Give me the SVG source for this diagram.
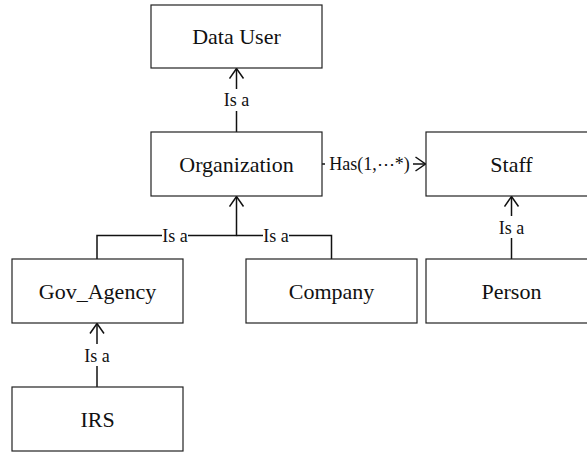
<svg xmlns="http://www.w3.org/2000/svg" width="587" height="452" viewBox="0 0 587 452">
<style>
.box{fill:#fff;stroke:#222;stroke-width:1.2}
.nt{font-family:"Liberation Serif",serif;font-size:22px;fill:#111;text-anchor:middle}
.lt{font-family:"Liberation Serif",serif;font-size:18px;fill:#111;text-anchor:middle}
.ln{fill:none;stroke:#111;stroke-width:1.5}
.bg{fill:#fff}
</style>
<defs>
<marker id="arr" viewBox="0 0 12 16" refX="11" refY="8" markerWidth="12" markerHeight="16" markerUnits="userSpaceOnUse" orient="auto">
<path d="M1,1 L11,8 L1,15" fill="none" stroke="#111" stroke-width="1.5"/>
</marker>
</defs>
<rect width="587" height="452" fill="#fff"/>
<g id="connectors">
<path class="ln" d="M236.5,132 V68.5" marker-end="url(#arr)"/>
<rect class="bg" x="224" y="89" width="25" height="22"/>
<text class="lt" x="236.5" y="106">Is a</text>
<path class="ln" d="M97,259 V235.5 H236.5 V196.5" marker-end="url(#arr)"/>
<path class="ln" d="M331.5,259 V235.5 H236.5"/>
<rect class="bg" x="162" y="226" width="26" height="19"/>
<text class="lt" x="175" y="241.5">Is a</text>
<rect class="bg" x="263" y="226" width="26" height="19"/>
<text class="lt" x="276" y="241.5">Is a</text>
<path class="ln" d="M97,387 V323.5" marker-end="url(#arr)"/>
<rect class="bg" x="84" y="344" width="26" height="22"/>
<text class="lt" x="97" y="361.5">Is a</text>
<path class="ln" d="M511.5,259 V196.5" marker-end="url(#arr)"/>
<rect class="bg" x="498" y="216" width="26" height="22"/>
<text class="lt" x="511.5" y="233.5">Is a</text>
<path class="ln" d="M322,164 H425.5" marker-end="url(#arr)"/>
<rect class="bg" x="325" y="154" width="88" height="20"/>
<text class="lt" x="369.5" y="170">Has(1,⋯*)</text>
</g>
<g id="data-user"><rect class="box" x="151" y="5" width="171" height="63"/><text class="nt" x="236.5" y="44.3">Data User</text></g>
<g id="organization"><rect class="box" x="151" y="132" width="171" height="64"/><text class="nt" x="236.5" y="171.8">Organization</text></g>
<g id="staff"><rect class="box" x="426" y="132" width="171" height="64"/><text class="nt" x="511.5" y="171.8">Staff</text></g>
<g id="gov-agency"><rect class="box" x="12" y="259" width="171" height="64"/><text class="nt" x="97.5" y="298.8">Gov_Agency</text></g>
<g id="company"><rect class="box" x="246" y="259" width="171" height="64"/><text class="nt" x="331.5" y="298.8">Company</text></g>
<g id="person"><rect class="box" x="426" y="259" width="171" height="64"/><text class="nt" x="511.5" y="298.8">Person</text></g>
<g id="irs"><rect class="box" x="12" y="387" width="171" height="64"/><text class="nt" x="97.5" y="426.8">IRS</text></g>
</svg>
